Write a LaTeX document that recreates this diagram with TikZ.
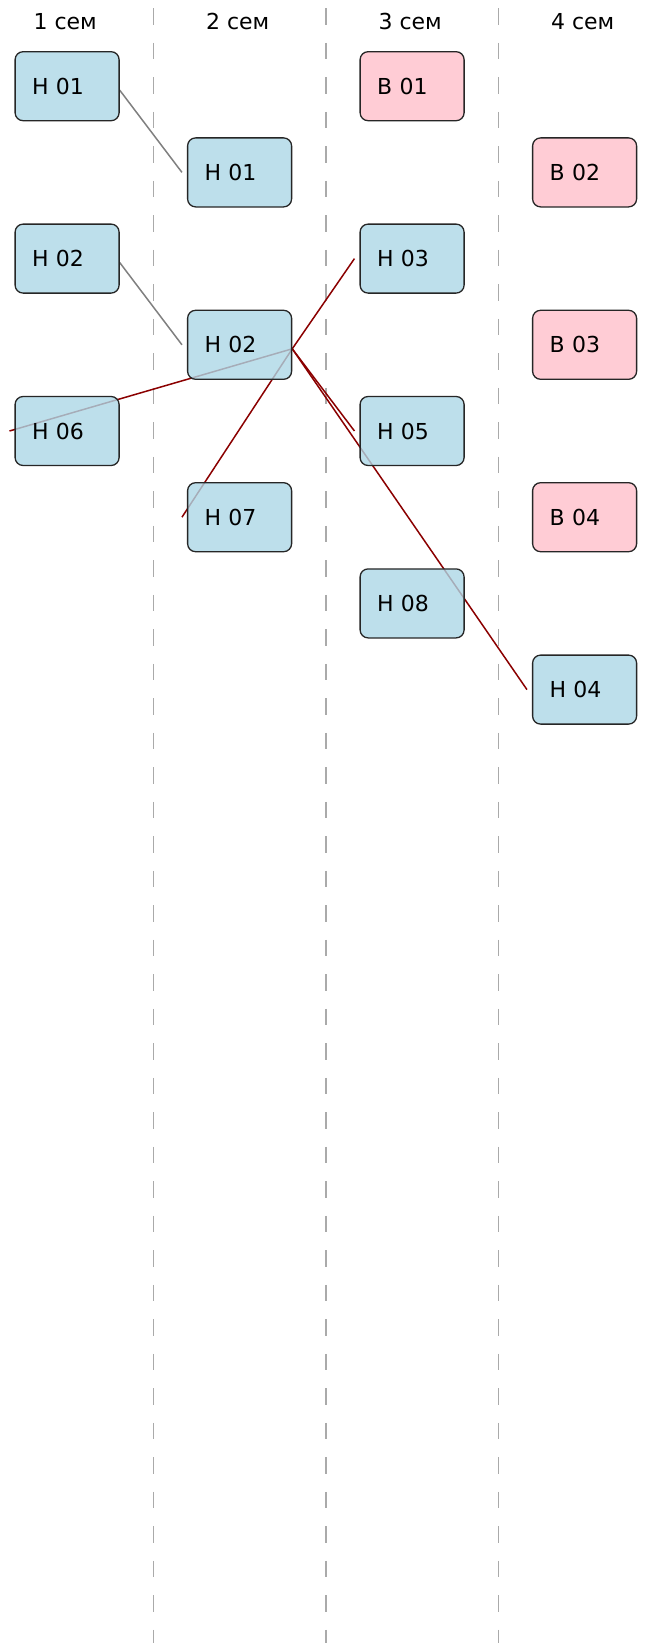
\documentclass[tikz,border=0pt]{standalone}
\usepackage{fontspec}
\setmainfont{DejaVu Sans}
\usetikzlibrary{calc}
\pgfdeclarelayer{bg}
\pgfsetlayers{bg,main}
\definecolor{boxblue}{HTML}{ADD8E6}
\definecolor{boxpink}{HTML}{FFC0CB}
\definecolor{edgered}{HTML}{8B0000}
\definecolor{edgegray}{HTML}{808080}
\definecolor{divgray}{HTML}{AAAAAA}
\definecolor{borderc}{HTML}{262626}
\begin{document}
\begin{tikzpicture}[x=1pt,y=-1pt,
  course/.style={draw=borderc, line width=1.3pt, rounded corners=8pt, fill opacity=0.8, text opacity=1,
    minimum width=104pt, minimum height=69pt, inner xsep=17pt, inner ysep=0pt, text width=70pt, align=left,
    font=\fontsize{22}{26}\selectfont},
  core/.style={course, fill=boxblue},
  elective/.style={course, fill=boxpink},
  header/.style={anchor=base, font=\fontsize{22}{26}\selectfont},
  divider/.style={divgray, line width=1.5pt, dash pattern=on 16.6pt off 17.9pt},
  prereq/.style={edgegray, line width=1.5pt},
  dep/.style={edgered, line width=1.5pt}]
\useasboundingbox (0,0) rectangle (660,1643);

% headers
\node[header] (h1) at (65.2,29.3) {1 сем};
\node[header] (h2) at (237.7,29.3) {2 сем};
\node[header] (h3) at (410.2,29.3) {3 сем};
\node[header] (h4) at (582.7,29.3) {4 сем};

% column 1
\node[core] (a1) at (67.1,86.2) {Н 01};
\node[core] (a2) at (67.1,258.6) {Н 02};
\node[core] (a6) at (67.1,431.0) {Н 06};
% column 2
\node[core] (b1) at (239.6,172.4) {Н 01};
\node[core] (b2) at (239.6,344.8) {Н 02};
\node[core] (b7) at (239.6,517.2) {Н 07};
% column 3
\node[elective] (cv1) at (412.1,86.2) {В 01};
\node[core] (c3) at (412.1,258.6) {Н 03};
\node[core] (c5) at (412.1,431.0) {Н 05};
\node[core] (c8) at (412.1,603.4) {Н 08};
% column 4
\node[elective] (dv2) at (584.6,172.4) {В 02};
\node[elective] (dv3) at (584.6,344.8) {В 03};
\node[elective] (dv4) at (584.6,517.2) {В 04};
\node[core] (d4) at (584.6,689.6) {Н 04};

\begin{pgfonlayer}{bg}
  \fill[white] (0,0) rectangle (660,1643);
  \draw[divider] (153.3,8.3) -- (153.3,1643);
  \draw[divider] (325.8,8.3) -- (325.8,1643);
  \draw[divider] (498.3,8.3) -- (498.3,1643);

  \draw[prereq] ([yshift=-4pt]a1.east) -- ([xshift=-5pt]b1.west);
  \draw[prereq] ([yshift=-4pt]a2.east) -- ([xshift=-5pt]b2.west);

  \draw[dep] ([yshift=-4pt]b2.east) -- ([xshift=-5pt]c3.west);
  \draw[dep] ([yshift=-4pt]b2.east) -- ([xshift=-5pt]a6.west);
  \draw[dep] ([yshift=-4pt]b2.east) -- ([xshift=-5pt]b7.west);
  \draw[dep] ([yshift=-4pt]b2.east) -- ([xshift=-5pt]c5.west);
  \draw[dep] ([yshift=-4pt]b2.east) -- ([xshift=-5pt]d4.west);
\end{pgfonlayer}
\end{tikzpicture}
\end{document}
